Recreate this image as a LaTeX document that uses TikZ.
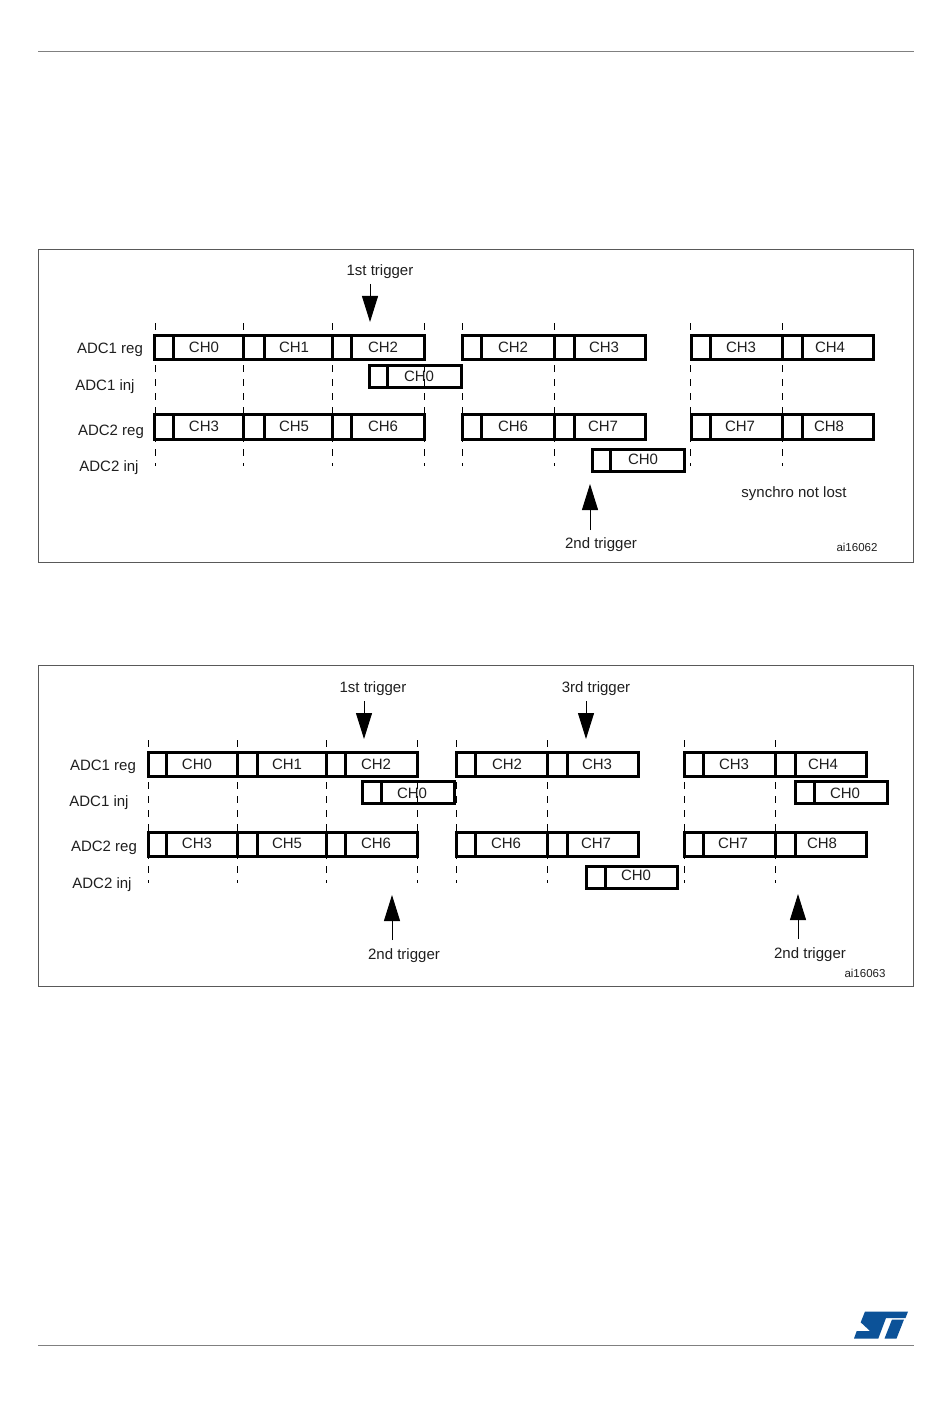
\documentclass[tikz,border=0pt]{standalone}
\usepackage{fontspec}
\setmainfont{Liberation Sans}
\usetikzlibrary{arrows.meta}
\definecolor{logoblue}{RGB}{12,82,152}
\tikzset{
  cellbox/.style={draw=black,line width=3pt,inner sep=0pt,outer sep=0pt},
  lab/.style={inner sep=0pt,font=\fontsize{15}{18}\selectfont,text height=14.5pt,text depth=3.2pt,text=black!88},
  small/.style={inner sep=0pt,font=\fontsize{11.5}{14}\selectfont,text height=8pt,text depth=0pt,text=black!88},
  gate/.style={line width=1pt,dash pattern=on 6.5pt off 7.5pt,draw=black},
  frame/.style={draw=black!65,line width=1pt},
  rule/.style={draw=black!50,line width=1pt},
  trig/.style={line width=1pt,-{Triangle[length=26pt,width=16pt]}},
}
% name, x0, x1(divider), x2, y0, y1, label, label x, label y
\newcommand{\tcell}[9]{%
  \node[cellbox,minimum width={(#3-#2)*1pt},minimum height={(#6-#5)*1pt}] (#1a) at ({(#2+#3)/2},{(#5+#6)/2}) {};
  \node[cellbox,minimum width={(#4-#3)*1pt},minimum height={(#6-#5)*1pt}] (#1b) at ({(#3+#4)/2},{(#5+#6)/2}) {};
  \node[lab] (#1t) at (#8,#9) {#7};
}
\newcommand{\gateline}[4]{%
  \coordinate (#1s) at (#2,#3);
  \coordinate (#1e) at (#2,#4);
  \draw[gate] (#1s) -- (#1e);
}
\newcommand{\trigarrow}[4]{%
  \coordinate (#1s) at (#2,#3);
  \coordinate (#1e) at (#2,#4);
  \draw[trig] (#1s) -- (#1e);
}
\begin{document}
\begin{tikzpicture}[x=1pt,y=-1pt]
\useasboundingbox (0,0) rectangle (950,1420);
\fill[white] (0,0) rectangle (950,1420);
% page rules
\coordinate (rt1) at (38,51.5); \coordinate (rt2) at (914,51.5);
\coordinate (rb1) at (38,1345); \coordinate (rb2) at (914,1345);
\draw[rule] (rt1) -- (rt2);
\draw[rule] (rb1) -- (rb2);
% frames
\draw[frame] (38.5,249.5) rectangle (913.5,562);
\draw[frame] (38.5,665.5) rectangle (913.5,986.5);

%% ---- upper diagram ----
\foreach \i/\x in {1/155,2/243,3/332,4/424,5/462,6/554,7/690,8/782}{
  \gateline{ua\i}{\x}{323}{466}
}
\tcell{u1}{154.5}{173}{243}{335}{359.5}{CH0}{204}{347}
\tcell{u2}{243}{264}{332}{335}{359.5}{CH1}{294}{347}
\tcell{u3}{332}{351}{424}{335}{359.5}{CH2}{383}{347}
\tcell{u4}{462.5}{481.5}{554}{335}{359.5}{CH2}{513}{347}
\tcell{u5}{554}{574}{645}{335}{359.5}{CH3}{604}{347}
\tcell{u6}{691}{710}{782}{335}{359.5}{CH3}{741}{347}
\tcell{u7}{782}{802}{873}{335}{359.5}{CH4}{830}{347}
\tcell{u8}{369.5}{387.5}{461}{365}{387}{CH0}{419}{376}
\tcell{u9}{154.5}{173}{243}{414.5}{439}{CH3}{204}{426}
\tcell{u10}{243}{264}{332}{414.5}{439}{CH5}{294}{426}
\tcell{u11}{332}{351}{424}{414.5}{439}{CH6}{383}{426}
\tcell{u12}{462.5}{481.5}{554}{414.5}{439}{CH6}{513}{426}
\tcell{u13}{554}{574}{645}{414.5}{439}{CH7}{603}{426}
\tcell{u14}{691}{710}{782}{414.5}{439}{CH7}{740}{426}
\tcell{u15}{782}{802}{873}{414.5}{439}{CH8}{829}{426}
\tcell{u16}{592.5}{610.5}{684.5}{449}{471}{CH0}{643}{459}
\node[lab] (ul1) at (110,347.5) {ADC1 reg};
\node[lab] (ul2) at (105,385) {ADC1 inj};
\node[lab] (ul3) at (111,430) {ADC2 reg};
\node[lab] (ul4) at (109,466) {ADC2 inj};
\node[lab] (ut1) at (380,270) {1st trigger};
\node[lab] (ut2) at (601,543) {2nd trigger};
\node[lab] (us) at (794,492) {synchro not lost};
\node[small] (uai) at (857,547) {ai16062};
\trigarrow{uta}{370}{284}{322}
\trigarrow{utb}{590}{530}{484}

%% ---- lower diagram ----
\foreach \i/\x in {1/148.5,2/237.5,3/326,4/417.5,5/456.5,6/547.5,7/684,8/775}{
  \gateline{la\i}{\x}{740}{883}
}
\tcell{l1}{148}{166}{237.5}{752}{776}{CH0}{197}{764}
\tcell{l2}{237.5}{257}{326}{752}{776}{CH1}{287}{764}
\tcell{l3}{326}{345}{417.5}{752}{776}{CH2}{376}{764}
\tcell{l4}{456.5}{475}{547.5}{752}{776}{CH2}{507}{764}
\tcell{l5}{547.5}{567}{638.5}{752}{776}{CH3}{597}{764}
\tcell{l6}{684.5}{703}{775}{752}{776}{CH3}{734}{764}
\tcell{l7}{775}{795}{866}{752}{776}{CH4}{823}{764}
\tcell{l8}{362.5}{381}{454}{781}{803}{CH0}{412}{793}
\tcell{l9}{795.5}{814}{887.5}{781}{803}{CH0}{845}{793}
\tcell{l10}{148}{166}{237.5}{832}{856}{CH3}{197}{843}
\tcell{l11}{237.5}{257}{326}{832}{856}{CH5}{287}{843}
\tcell{l12}{326}{345}{417.5}{832}{856}{CH6}{376}{843}
\tcell{l13}{456.5}{475}{547.5}{832}{856}{CH6}{506}{843}
\tcell{l14}{547.5}{567}{638.5}{832}{856}{CH7}{596}{843}
\tcell{l15}{684.5}{703}{775}{832}{856}{CH7}{733}{843}
\tcell{l16}{775}{795}{866}{832}{856}{CH8}{822}{843}
\tcell{l17}{586}{605}{677.5}{866}{888}{CH0}{636}{875}
\node[lab] (ll1) at (103,764.5) {ADC1 reg};
\node[lab] (ll2) at (99,801) {ADC1 inj};
\node[lab] (ll3) at (104,846) {ADC2 reg};
\node[lab] (ll4) at (102,883) {ADC2 inj};
\node[lab] (lt1) at (373,687) {1st trigger};
\node[lab] (lt3) at (596,687) {3rd trigger};
\node[lab] (lt2) at (404,954) {2nd trigger};
\node[lab] (lt4) at (810,953) {2nd trigger};
\node[small] (lai) at (865,973) {ai16063};
\trigarrow{lta}{364}{701}{739}
\trigarrow{ltb}{586}{701}{739}
\trigarrow{ltc}{392}{940}{895}
\trigarrow{ltd}{798}{939}{894}

%% ---- logo ----
\fill[logoblue] (865,1311.5) -- (908,1311.5) -- (905.5,1318) -- (886,1318) -- (878.3,1338.5) -- (854,1338.5) -- (856.7,1331) -- (870,1331) -- (860.7,1322.3) -- cycle;
\fill[logoblue] (892,1319.5) -- (904,1319.5) -- (896.5,1338.5) -- (884.5,1338.5) -- cycle;
\end{tikzpicture}
\end{document}
